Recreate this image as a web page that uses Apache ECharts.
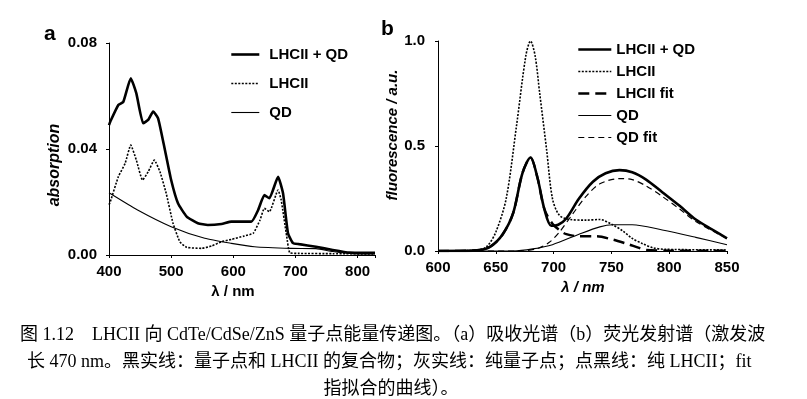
<!DOCTYPE html>
<html>
<head>
<meta charset="utf-8">
<script src="https://cdn.jsdelivr.net/npm/echarts@6/dist/echarts.min.js"></script>
<style>
  html, body { margin: 0; padding: 0; background: #fff; }
  #chart { width: 807px; height: 399px; }
</style>
</head>
<body>
<div id="chart"></div>
<script>
// (a) absorption, [wavelength nm, absorbance]
const absLhciiQd = [
  [400, 0.0490], [402, 0.0503], [415, 0.0566], [423, 0.0578], [435, 0.0667], [444, 0.0610],
  [455, 0.0497], [463, 0.0510], [471, 0.0541], [479, 0.0516], [490, 0.0396], [500, 0.0283],
  [511, 0.0195], [525, 0.0145], [543, 0.0120], [559, 0.0113], [581, 0.0117], [597, 0.0126],
  [629, 0.0126], [640, 0.0170], [650, 0.0226], [658, 0.0214], [672, 0.0295], [680, 0.0233],
  [688, 0.0082], [696, 0.0045], [706, 0.0041], [733, 0.0031], [760, 0.0019], [787, 0.0009],
  [828, 0.0008]
]
const absLhcii = [
  [400, 0.0190], [402, 0.0200], [415, 0.0295], [426, 0.0346], [435, 0.0415], [444, 0.0358],
  [454, 0.0283], [463, 0.0314], [473, 0.0358], [482, 0.0314], [492, 0.0233], [503, 0.0120],
  [514, 0.0050], [525, 0.0029], [549, 0.0025], [565, 0.0034], [581, 0.0050], [597, 0.0059],
  [618, 0.0072], [632, 0.0082], [643, 0.0132], [650, 0.0176], [658, 0.0163], [672, 0.0245],
  [677, 0.0208], [686, 0.0069], [691, 0.0008], [706, 0.0006], [760, 0.0005], [828, 0.0004]
]
const absQd = [
  [400, 0.0235], [446, 0.0170], [500, 0.0107], [554, 0.0063], [597, 0.0044], [634, 0.0031],
  [693, 0.0025], [733, 0.0024], [760, 0.0013], [787, 0.0006], [828, 0.0004]
]

// (b) fluorescence, [wavelength nm, a.u.]
const flLhciiQd = [
  [600, 0.000], [633, 0.003], [645, 0.020], [656, 0.080], [665, 0.180], [673, 0.370],
  [680, 0.445], [686, 0.350], [692, 0.200], [698, 0.120], [704, 0.125], [711, 0.155],
  [722, 0.250], [734, 0.330], [745, 0.370], [757, 0.385], [768, 0.375], [780, 0.340],
  [794, 0.280], [809, 0.215], [823, 0.150], [838, 0.100], [850, 0.060]
]
const flLhcii = [
  [600, 0.000], [633, 0.003], [642, 0.020], [650, 0.090], [659, 0.250], [668, 0.600],
  [676, 0.930], [680, 1.000], [684, 0.930], [688, 0.750], [694, 0.480], [699, 0.250],
  [705, 0.170], [714, 0.150], [728, 0.147], [740, 0.150], [751, 0.125], [760, 0.095],
  [768, 0.060], [777, 0.035], [786, 0.015], [797, 0.008], [850, 0.005]
]
const flLhciiFit = [
  [600, 0.000], [633, 0.003], [645, 0.020], [656, 0.080], [665, 0.180], [673, 0.370],
  [680, 0.445], [686, 0.350], [692, 0.200], [699, 0.130], [705, 0.100], [711, 0.080],
  [722, 0.070], [737, 0.070], [751, 0.055], [763, 0.035], [774, 0.015], [780, 0.005],
  [800, 0.002], [850, 0.001]
]
const flQd = [
  [600, 0.000], [665, 0.000], [682, 0.010], [699, 0.030], [722, 0.080], [740, 0.115],
  [751, 0.125], [768, 0.125], [794, 0.100], [823, 0.065], [850, 0.030]
]
const flQdFit = [
  [600, 0.000], [670, 0.000], [685, 0.010], [696, 0.040], [705, 0.090], [717, 0.180],
  [728, 0.260], [740, 0.320], [757, 0.345], [768, 0.340], [780, 0.310], [794, 0.260],
  [809, 0.200], [823, 0.140], [850, 0.060]
]

const absTicks = [0, 0.04, 0.08]
const flTicks = [0, 0.5, 1.0]

const captionLines = [
  '图 1.12　LHCII 向 CdTe/CdSe/ZnS 量子点能量传递图。（a）吸收光谱（b）荧光发射谱（激发波',
  '长 470 nm。黑实线：量子点和 LHCII 的复合物；灰实线：纯量子点；点黑线：纯 LHCII；fit',
  '指拟合的曲线）。'
]

const sans = '"Liberation Sans", Arial, sans-serif'
const serif = '"Liberation Serif", "Noto Sans CJK SC", serif'

function axisCommon() {
  return {
    type: 'value',
    splitLine: { show: false },
    axisLine: { show: true, onZero: false, lineStyle: { color: '#000', width: 1 } },
    axisTick: { show: true, length: 3, lineStyle: { color: '#000' } },
    axisLabel: { color: '#000', fontFamily: sans, fontSize: 15, fontWeight: 'bold' }
  }
}

function lineSeries(name, data, idx, width, type, smooth) {
  return {
    name: name,
    type: 'line',
    xAxisIndex: idx,
    yAxisIndex: idx,
    data: data,
    symbol: 'none',
    smooth: smooth,
    silent: true,
    itemStyle: { color: '#000' },
    lineStyle: { color: '#000', width: width, type: type }
  }
}

const chart = echarts.init(document.getElementById('chart'), null, { renderer: 'canvas' })

const xa0 = axisCommon()
Object.assign(xa0, { gridIndex: 0, min: 400, max: 828, interval: 100 })
xa0.axisLabel = Object.assign({}, xa0.axisLabel, { margin: 9,
  formatter: v => (v % 100 === 0 ? String(v) : '') })
const xa1 = axisCommon()
Object.assign(xa1, { gridIndex: 1, min: 600, max: 850, interval: 50 })
xa1.axisLabel = Object.assign({}, xa1.axisLabel, { margin: 9 })

const ya0 = axisCommon()
Object.assign(ya0, { gridIndex: 0, min: absTicks[0], max: absTicks[2], interval: absTicks[1] })
ya0.axisLabel = Object.assign({}, ya0.axisLabel, { margin: 12, formatter: v => v.toFixed(2) })
const ya1 = axisCommon()
Object.assign(ya1, { gridIndex: 1, min: flTicks[0], max: flTicks[2], interval: flTicks[1] })
ya1.axisLabel = Object.assign({}, ya1.axisLabel, { margin: 13, formatter: v => v.toFixed(1) })

const legendText = { color: '#000', fontFamily: sans, fontSize: 15, fontWeight: 'bold' }

const option = {
  backgroundColor: '#fff',
  animation: false,
  grid: [
    { left: 109, top: 43, width: 266, height: 212 },
    { left: 438, top: 41, width: 289, height: 210 }
  ],
  xAxis: [xa0, xa1],
  yAxis: [ya0, ya1],
  legend: [
    {
      orient: 'vertical', left: 230, top: 47, padding: 0,
      itemWidth: 28, itemHeight: 14, itemGap: 14,
      selectedMode: false,
      itemStyle: { opacity: 0 },
      lineStyle: { width: 'inherit' },
      textStyle: Object.assign({ padding: [0, 0, 0, 5] }, legendText),
      data: ['LHCII + QD', 'LHCII', 'QD']
    },
    {
      orient: 'vertical', left: 577, top: 42, padding: 0,
      itemWidth: 33, itemHeight: 14, itemGap: 7,
      selectedMode: false,
      itemStyle: { opacity: 0 },
      lineStyle: { width: 'inherit' },
      textStyle: legendText,
      data: ['LHCII + QD', 'LHCII', 'LHCII fit', 'QD', 'QD fit']
    }
  ],
  series: [
    lineSeries('LHCII + QD', absLhciiQd, 0, 2.6, 'solid', 0.15),
    lineSeries('LHCII', absLhcii, 0, 1.6, [2, 1.5], 0.15),
    lineSeries('QD', absQd, 0, 1.1, 'solid', 0.2),
    lineSeries('LHCII + QD', flLhciiQd, 1, 2.6, 'solid', 0.3),
    lineSeries('LHCII', flLhcii, 1, 1.6, [2, 1.5], 0.3),
    lineSeries('LHCII fit', flLhciiFit, 1, 2.4, [11, 6], 0.3),
    lineSeries('QD', flQd, 1, 1.1, 'solid', 0.3),
    lineSeries('QD fit', flQdFit, 1, 1.2, [6, 4], 0.3)
  ],
  graphic: [
    { type: 'text', left: 44, top: 24, style: { text: 'a', fill: '#000', font: 'bold 21px ' + sans } },
    { type: 'text', left: 381, top: 19, style: { text: 'b', fill: '#000', font: 'bold 21px ' + sans } },
    { type: 'text', x: 55, y: 165, rotation: Math.PI / 2,
      style: { text: 'absorption', fill: '#000', font: 'italic bold 16px ' + sans, align: 'center', verticalAlign: 'middle' } },
    { type: 'text', x: 393, y: 135, rotation: Math.PI / 2,
      style: { text: 'fluorescence / a.u.', fill: '#000', font: 'italic bold 15px ' + sans, align: 'center', verticalAlign: 'middle' } },
    { type: 'text', x: 233, y: 292,
      style: { text: 'λ / nm', fill: '#000', font: 'bold 15px ' + sans, align: 'center', verticalAlign: 'middle' } },
    { type: 'text', x: 583, y: 288,
      style: { text: 'λ / nm', fill: '#000', font: 'italic bold 15px ' + sans, align: 'center', verticalAlign: 'middle' } },
    { type: 'text', x: 20, y: 335,
      style: { text: captionLines[0], fill: '#000', font: '18px ' + serif, verticalAlign: 'middle' } },
    { type: 'text', x: 27, y: 362,
      style: { text: captionLines[1], fill: '#000', font: '18px ' + serif, verticalAlign: 'middle' } },
    { type: 'text', x: 391, y: 389,
      style: { text: captionLines[2], fill: '#000', font: '18px ' + serif, align: 'center', verticalAlign: 'middle' } }
  ]
}

chart.setOption(option)
</script>
</body>
</html>
